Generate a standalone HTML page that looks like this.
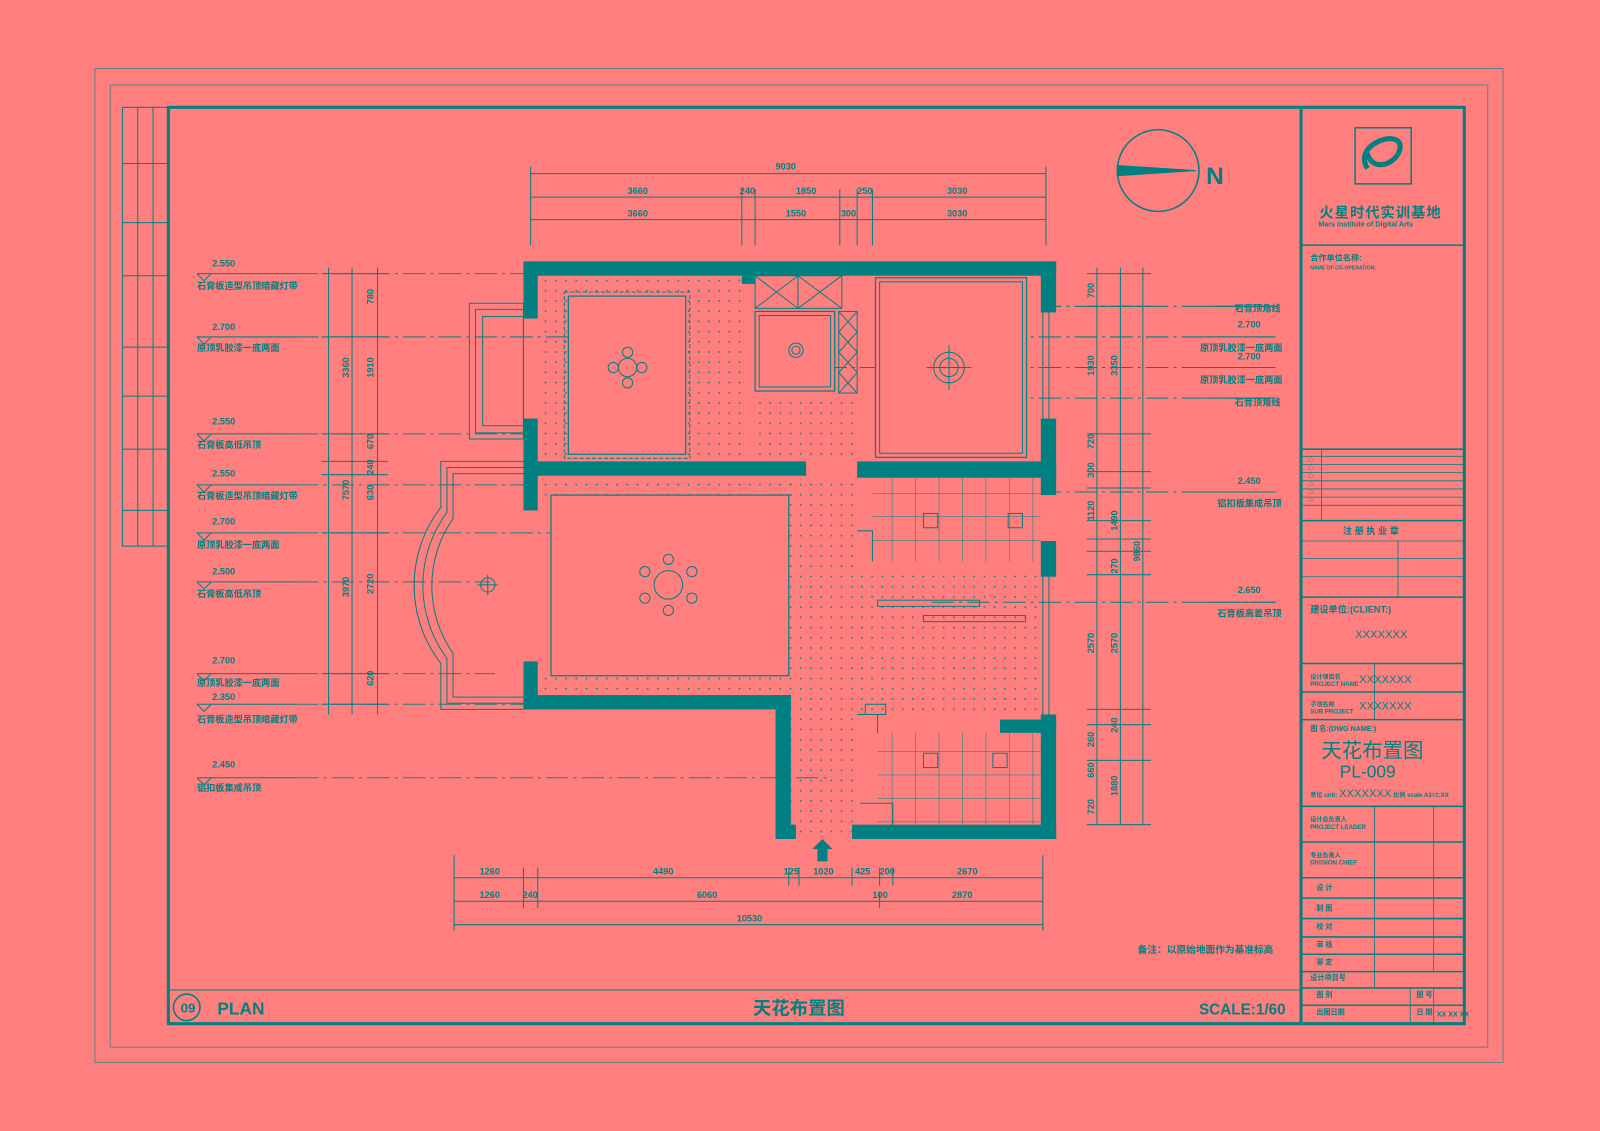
<!DOCTYPE html>
<html><head><meta charset="utf-8"><style>
html,body{margin:0;padding:0;background:#FF7F7F;}
svg{display:block}
text{font-family:"Liberation Sans","Noto Sans CJK SC",sans-serif;fill:#008080;}
</style></head><body>
<svg width="1600" height="1131" viewBox="0 0 1568 1108" xmlns="http://www.w3.org/2000/svg">
<defs>
<pattern id="dots" width="10" height="10" patternUnits="userSpaceOnUse"><rect x="4" y="4" width="1.5" height="1.5" fill="#008080"/></pattern>
<pattern id="tile" width="23" height="23" patternUnits="userSpaceOnUse"><path d="M0 0H23M0 0V23" stroke="#008080" stroke-width="1" fill="none"/></pattern>
</defs>
<rect width="1568" height="1108" fill="#FF7F7F"/>
<g fill="none" stroke="#008080">
<rect x="93" y="67" width="1380" height="974" stroke-width="1" opacity=".6"/>
<rect x="108" y="83" width="1350" height="943" stroke-width="1" opacity=".6"/>
<rect x="165" y="105" width="1270" height="898" stroke-width="3"/>
<line x1="1275" y1="105" x2="1275" y2="1003" stroke-width="3"/>
<line x1="165" y1="970" x2="1275" y2="970" stroke-width="1"/>
<rect x="120" y="105" width="45" height="430" stroke-width="1"/>
<line x1="135" y1="105" x2="135" y2="535"/><line x1="150" y1="105" x2="150" y2="535"/>
<path d="M120 160H165M120 218H165M120 270H165M120 340H165M120 388H165M120 440H165M120 500H165"/>
<circle cx="183" cy="987" r="13" stroke-width="1.5"/>
</g>
<g font-weight="bold">
<text x="177" y="992" font-size="13">09</text>
<text x="213" y="994" font-size="17">PLAN</text>
<text x="738" y="994" font-size="18">天花布置图</text>
<text x="1175" y="994" font-size="15">SCALE:1/60</text>
<text x="1115" y="934" font-size="9.5">备注：以原始地面作为基准标高</text>
</g>

<g stroke="#008080" fill="none"><circle cx="1135" cy="167" r="40" stroke-width="1.5"/>
<path d="M1095 162 L1172 167 L1095 172 Z" fill="#008080"/></g>
<text x="1182" y="180" font-size="24" font-weight="bold">N</text>

<g stroke="#008080" stroke-width="1" fill="none">
<path d="M520 170H1025M520 193H1025M520 215H1025"/>
<path d="M520 163V240M727 185V240M740 185V240M823 185V240M840 185V240M855 185V240M1025 163V240"/>
<path d="M445 860H1022M445 883H1022M445 906H1022"/>
<path d="M445 838V912M513 850V890M527 850V890M773 850V868M783 850V868M835 850V868M862 850V868M875 850V868M862 875V890M1022 838V912"/>
<path d="M322 262V700M345 262V700M370 262V700"/>
<path d="M1075 262V808M1098 262V808M1120 262V808"/>
<path d="M315 268H380M315 330H380M315 425H380M315 452H380M315 465H380M315 522H380M315 660H380M315 690H380"/>
<path d="M1065 268H1128M1065 300H1128M1065 425H1128M1065 462H1128M1065 478H1128M1065 510H1128M1065 528H1128M1065 540H1128M1065 563H1128M1065 695H1128M1065 710H1128M1065 745H1128M1065 808H1128"/>
</g>
<g font-size="9" font-weight="bold">
<text x="760" y="166">9030</text>
<text x="615" y="190">3660</text><text x="725" y="190">240</text><text x="780" y="190">1850</text><text x="840" y="190">250</text><text x="928" y="190">3030</text>
<text x="615" y="212">3660</text><text x="770" y="212">1550</text><text x="824" y="212">300</text><text x="928" y="212">3030</text>
<text x="470" y="857">1260</text><text x="640" y="857">4490</text><text x="768" y="857">125</text><text x="797" y="857">1020</text><text x="838" y="857">425</text><text x="862" y="857">200</text><text x="938" y="857">2670</text>
<text x="470" y="880">1260</text><text x="512" y="880">240</text><text x="683" y="880">6060</text><text x="855" y="880">100</text><text x="933" y="880">2870</text>
<text x="722" y="903">10530</text>
</g>
<g font-size="9" font-weight="bold">
<text transform="translate(342,490) rotate(-90)">7570</text>
<text transform="translate(342,370) rotate(-90)">3360</text>
<text transform="translate(342,585) rotate(-90)">3970</text>
<text transform="translate(366,298) rotate(-90)">780</text>
<text transform="translate(366,370) rotate(-90)">1910</text>
<text transform="translate(366,440) rotate(-90)">670</text>
<text transform="translate(366,465) rotate(-90)">240</text>
<text transform="translate(366,490) rotate(-90)">630</text>
<text transform="translate(366,582) rotate(-90)">2720</text>
<text transform="translate(366,672) rotate(-90)">620</text>
<text transform="translate(1072,292) rotate(-90)">700</text>
<text transform="translate(1072,368) rotate(-90)">1930</text>
<text transform="translate(1072,440) rotate(-90)">720</text>
<text transform="translate(1072,468) rotate(-90)">300</text>
<text transform="translate(1072,510) rotate(-90)">1120</text>
<text transform="translate(1072,640) rotate(-90)">2570</text>
<text transform="translate(1072,732) rotate(-90)">260</text>
<text transform="translate(1072,762) rotate(-90)">660</text>
<text transform="translate(1072,798) rotate(-90)">720</text>
<text transform="translate(1095,368) rotate(-90)">3350</text>
<text transform="translate(1095,520) rotate(-90)">1490</text>
<text transform="translate(1095,562) rotate(-90)">270</text>
<text transform="translate(1095,640) rotate(-90)">2570</text>
<text transform="translate(1095,718) rotate(-90)">240</text>
<text transform="translate(1095,780) rotate(-90)">1880</text>
<text transform="translate(1117,550) rotate(-90)">9860</text>
</g>

<g stroke="#008080" fill="none" stroke-width="1">
<path d="M193 268H290M193 330H290M193 425H290M193 475H290M193 522H290M193 570H290M193 660H290M193 690H290M193 762H290"/>
<path d="M193 268l7 7l7 -7M193 330l7 7l7 -7M193 425l7 7l7 -7M193 475l7 7l7 -7M193 522l7 7l7 -7M193 570l7 7l7 -7M193 660l7 7l7 -7M193 690l7 7l7 -7M193 762l7 7l7 -7"/>
<path d="M290 268H520M290 330H605M290 425H520M290 475H520M290 522H605M290 570H480M290 660H485M290 690H520M290 762H810" stroke-dasharray="22 5 3 5" opacity=".9"/>
<path d="M1250 300H1035M1250 330H960M1250 360H800M1250 390H905M1250 482H1035M1250 590H910" stroke-dasharray="22 5 3 5"/>
<path d="M1180 300H1250M1180 330H1250M1180 360H1250M1180 390H1250M1180 482H1250M1180 590H1250"/>
</g>
<g font-size="9" font-weight="bold">
<text x="208" y="261">2.550</text><text x="193" y="283">石膏板造型吊顶暗藏灯带</text>
<text x="208" y="323">2.700</text><text x="193" y="344">原顶乳胶漆一底两面</text>
<text x="208" y="416">2.550</text><text x="193" y="439">石膏板高低吊顶</text>
<text x="208" y="467">2.550</text><text x="193" y="489">石膏板造型吊顶暗藏灯带</text>
<text x="208" y="514">2.700</text><text x="193" y="537">原顶乳胶漆一底两面</text>
<text x="208" y="563">2.500</text><text x="193" y="585">石膏板高低吊顶</text>
<text x="208" y="650">2.700</text><text x="193" y="672">原顶乳胶漆一底两面</text>
<text x="208" y="686">2.350</text><text x="193" y="708">石膏板造型吊顶暗藏灯带</text>
<text x="208" y="752">2.450</text><text x="193" y="775">铝扣板集成吊顶</text>
<text x="1210" y="305">石膏顶角线</text>
<text x="1213" y="321">2.700</text><text x="1176" y="344">原顶乳胶漆一底两面</text>
<text x="1213" y="352">2.700</text><text x="1176" y="375">原顶乳胶漆一底两面</text>
<text x="1210" y="397">石膏顶角线</text>
<text x="1213" y="474">2.450</text><text x="1193" y="496">铝扣板集成吊顶</text>
<text x="1213" y="581">2.650</text><text x="1193" y="604">石膏板高差吊顶</text>
</g>

<rect x="527" y="270" width="200" height="182" fill="url(#dots)"/>
<rect x="740" y="390" width="100" height="63" fill="url(#dots)"/>
<rect x="527" y="466" width="250" height="20" fill="url(#dots)"/>
<rect x="773" y="466" width="67" height="350" fill="url(#dots)"/>
<rect x="840" y="560" width="180" height="140" fill="url(#dots)"/>
<rect x="527" y="660" width="246" height="21" fill="url(#dots)"/>
<rect x="855" y="468" width="165" height="82" fill="url(#tile)"/>
<rect x="860" y="718" width="160" height="90" fill="url(#tile)"/>
<g fill="#FF7F7F" stroke="#008080" stroke-width="1.2">
<rect x="557" y="290" width="115" height="155"/>
<rect x="540" y="485" width="233" height="177"/>
<rect x="740" y="305" width="78" height="78"/>
<rect x="858" y="272" width="148" height="176"/>
</g>
<g fill="none" stroke="#008080" stroke-width="1">
<rect x="553" y="286" width="123" height="163" stroke-dasharray="4 2"/>
<rect x="862" y="276" width="140" height="168"/>
<rect x="744" y="309" width="70" height="70"/>
<rect x="740" y="270" width="85" height="32"/><path d="M740 270L782 302L825 270M740 302L782 270L825 302M782 270V302"/>
<rect x="822" y="305" width="18" height="80"/><path d="M822 305L840 325L822 345L840 365L822 385M840 305L822 325L840 345L822 365L840 385"/>
<rect x="460" y="297" width="53" height="133"/><rect x="466" y="303" width="47" height="121"/><rect x="473" y="310" width="40" height="107"/>
<path d="M513 452H432V497A125 125 0 0 0 432 650V695H513"/>
<path d="M513 458H438V502A120 120 0 0 0 438 645V689H513"/>
<path d="M513 464H444V508A115 115 0 0 0 444 640V683H513"/>
<circle cx="478" cy="573" r="7"/><path d="M468 573H488M478 563V583"/>
<circle cx="615" cy="360" r="9"/><circle cx="615" cy="345" r="5"/><circle cx="615" cy="375" r="5"/><circle cx="601" cy="360" r="5"/><circle cx="629" cy="360" r="5"/>
<circle cx="655" cy="573" r="14"/><circle cx="655" cy="548" r="5"/><circle cx="655" cy="598" r="5"/><circle cx="632" cy="560" r="5"/><circle cx="678" cy="560" r="5"/><circle cx="632" cy="586" r="5"/><circle cx="678" cy="586" r="5"/>
<circle cx="930" cy="360" r="15"/><circle cx="930" cy="360" r="9"/><path d="M908 360H952M930 338V382"/>
<circle cx="780" cy="343" r="7"/><circle cx="780" cy="343" r="4"/>
<path d="M1022 300V410M1028 300V410M1022 540V700M1028 540V700M1024 735V800"/>
<rect x="905" y="503" width="14" height="14"/><rect x="988" y="503" width="14" height="14"/>
<rect x="905" y="738" width="14" height="14"/><rect x="973" y="738" width="14" height="14"/>
<path d="M840 520H855V550M840 700H860V718M843 787H875V808"/>
<rect x="860" y="588" width="100" height="6"/><rect x="905" y="603" width="100" height="6"/>
<rect x="848" y="690" width="20" height="10"/>
</g>
<g fill="#008080">
<rect x="513" y="256" width="522" height="14"/>
<rect x="513" y="256" width="14" height="56"/>
<rect x="513" y="410" width="14" height="90"/>
<rect x="513" y="648" width="14" height="47"/>
<rect x="513" y="681" width="262" height="14"/>
<rect x="760" y="681" width="15" height="141"/>
<rect x="760" y="808" width="20" height="14"/>
<rect x="835" y="808" width="200" height="14"/>
<rect x="1020" y="256" width="15" height="50"/>
<rect x="1020" y="410" width="15" height="75"/>
<rect x="1020" y="530" width="15" height="35"/>
<rect x="1020" y="700" width="15" height="122"/>
<rect x="513" y="452" width="277" height="14"/>
<rect x="840" y="452" width="195" height="16"/>
<rect x="980" y="705" width="55" height="13"/>
<rect x="727" y="270" width="13" height="8"/>
<rect x="801" y="830" width="10" height="14"/>
<path d="M796 832L806 822L816 832Z"/>
</g>

<g fill="none" stroke="#008080">
<path d="M1275 240H1435M1275 440H1435M1275 510H1435M1275 585H1435M1275 650H1435M1275 678H1435M1275 705H1435M1275 790H1435M1275 825H1435M1275 860H1435M1275 880H1435M1275 900H1435M1275 918H1435M1275 935H1435M1275 952H1435M1275 968H1435M1275 985H1435" stroke-width="1.5"/>
<path d="M1275 447H1435M1275 455H1435M1275 463H1435M1275 471H1435M1275 479H1435M1275 487H1435M1275 495H1435M1275 530H1435M1275 547H1435M1275 565H1435" stroke-width=".8"/>
<path d="M1295 440V510M1370 530V585M1347 650V705M1347 790V968M1405 790V952M1382 968V1003M1405 968V1003" stroke-width=".8"/>
<rect x="1328" y="125" width="55" height="55" stroke-width="1.5"/>
<path d="M1340 165C1325 140 1375 125 1372 145C1370 160 1345 170 1340 150" stroke-width="5"/>
</g>
<g font-weight="bold" font-size="7">
<text x="1293" y="213" font-size="14" letter-spacing="1">火星时代实训基地</text>
<text x="1292" y="222">Mars Institute of Digital Arts</text>
<text x="1284" y="255" font-size="8">合作单位名称:</text>
<text x="1284" y="264" font-size="5">NAME OF CO-OPERATION:</text>
<text x="1316" y="523" font-size="9">注 册 执 业 章</text>
<text x="1284" y="600" font-size="9">建设单位:(CLIENT:)</text>
<text x="1328" y="625" font-size="11" font-weight="normal">XXXXXXX</text>
<text x="1284" y="665" font-size="6">设计项目名</text><text x="1284" y="672" font-size="6">PROJECT NAME</text>
<text x="1332" y="669" font-size="11" font-weight="normal">XXXXXXX</text>
<text x="1284" y="692" font-size="6">子项名称</text><text x="1284" y="699" font-size="6">SUB PROJECT</text>
<text x="1332" y="695" font-size="11" font-weight="normal">XXXXXXX</text>
<text x="1284" y="716">图 名:(DWG NAME:)</text>
<text x="1295" y="742" font-size="20" font-weight="normal">天花布置图</text>
<text x="1313" y="762" font-size="17" font-weight="normal">PL-009</text>
<text x="1284" y="781" font-size="6">单位 unit: <tspan font-size="11" font-weight="normal">XXXXXXX</tspan> 比例 scale A3=1:XX</text>
<text x="1284" y="805" font-size="6">设计总负责人</text><text x="1284" y="812" font-size="6">PROJECT LEADER</text>
<text x="1284" y="840" font-size="6">专业负责人</text><text x="1284" y="847" font-size="6">DIVISION CHIEF</text>
<text x="1290" y="872">设 计</text><text x="1290" y="892">制 图</text><text x="1290" y="910">校 对</text><text x="1290" y="928">审 核</text><text x="1290" y="945">审 定</text><text x="1284" y="960">设计项目号</text><text x="1290" y="977">图 别</text><text x="1290" y="994">出图日期</text>
<text x="1388" y="977">图 号</text><text x="1388" y="994">日 期</text><text x="1408" y="996" font-size="7">XX XX XX</text>
</g>
<g font-size="6" font-weight="bold">
<text x="1282" y="452">△</text><text x="1282" y="460">△</text><text x="1282" y="468">△</text><text x="1282" y="476">△</text><text x="1282" y="484">△</text><text x="1282" y="492">△</text>
</g>
</svg>
</body></html>
